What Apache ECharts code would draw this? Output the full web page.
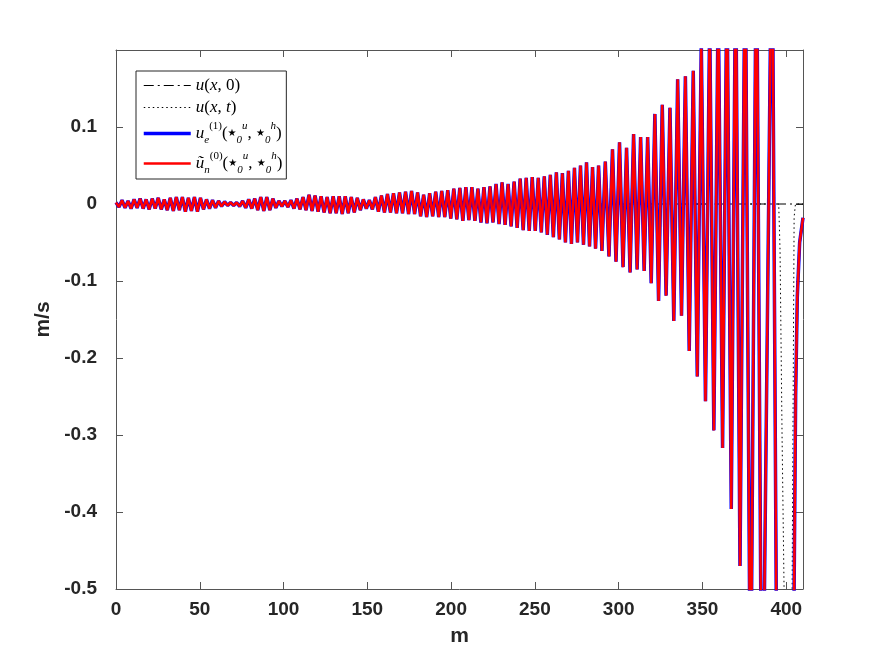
<!DOCTYPE html>
<html>
<head>
<meta charset="utf-8">
<title>m/s vs m</title>
<script src="https://cdn.jsdelivr.net/npm/echarts@6/dist/echarts.min.js"></script>
<style>
html,body{margin:0;padding:0;background:#fff;}
#main{width:888px;height:663px;}
</style>
</head>
<body>
<div id="main"></div>
<script>
// tick labels
var xTickLabels = ['0','50','100','150','200','250','300','350','400'];
var yTickLabels = ['-0.5','-0.4','-0.3','-0.2','-0.1','0','0.1'];

// legend keys, in drawing order
var seriesNames = ['u0', 'ut', 'ue', 'un'];

// u(x,0) and u(x,t)
var u0X = [0, 410];
var u0Y = [0, 0];
var utX = [0, 395.5, 396.3, 397.5, 398.7, 400.5, 402.3, 403.5, 404.7, 405.5, 410];
var utY = [0, 0, -0.06, -0.3, -0.5, -1.0, -0.8, -0.5, -0.017, 0, 0];

// numerical solution: turning points (m) and values (m/s)
var waveX = [
  0, 1.8, 3.6, 5.4, 7.2, 9, 10.8, 12.6, 14.4, 16.2,
  18, 19.8, 21.6, 23.4, 25.2, 27, 28.8, 30.6, 32.4, 34.2,
  36, 37.8, 39.6, 41.4, 43.2, 45, 46.8, 48.6, 50.4, 52.2,
  54, 55.8, 57.6, 59.4, 61.2, 63, 64.8, 66.6, 68.4, 70.2,
  72, 73.8, 75.6, 77.4, 79.2, 81, 82.8, 84.6, 86.4, 88.2,
  90, 91.8, 93.6, 95.4, 97.2, 99, 100.8, 102.6, 104.4, 106.2,
  108, 109.8, 111.6, 113.4, 115.2, 117, 118.8, 120.6, 122.4, 124.2,
  126, 127.8, 129.6, 131.4, 133.2, 135, 136.8, 138.6, 140.4, 142.2,
  144, 145.8, 147.6, 149.4, 151.2, 153, 154.8, 156.6, 158.4, 160.2,
  162, 163.8, 165.6, 167.4, 169.2, 171, 172.8, 174.6, 176.4, 178.2,
  180, 181.8, 183.6, 185.4, 187.2, 189, 190.8, 192.6, 194.4, 196.2,
  198, 199.8, 201.6, 203.4, 205.2, 207, 208.8, 210.6, 212.4, 214.2,
  216, 217.8, 219.6, 221.4, 223.2, 225, 226.8, 228.6, 230.4, 232.2,
  234, 235.8, 237.6, 239.4, 241.2, 243, 244.8, 246.6, 248.4, 250.2,
  252, 253.8, 255.6, 257.4, 259.2, 261, 262.8, 264.6, 266.4, 268.2,
  270, 271.8, 273.6, 275.4, 277.2, 279, 280.8, 282.6, 284.4, 286.2,
  288, 290,
  292, 294.2, 296.3, 298.4, 300.5, 302.6, 304.7, 306.8, 308.9, 311,
  313.1, 315.2, 317.3, 319.4, 321.6, 323.8, 326, 328.3, 330.6, 332.9,
  335.2, 337.5, 339.8, 342.1, 344.5, 346.9, 349.3, 351.8, 354.3, 356.8,
  359.4, 362, 364.6, 367.2, 369.8, 372.4, 375.5, 378.7, 382.2, 385.6,
  391.5, 394.3, 397, 400, 403, 404.7, 405.6, 406.6, 408, 410
];
var uTilde = [
  0.002, -0.004, 0.005, -0.005, 0.004, -0.006, 0.006, -0.005, 0.007, -0.006,
  0.006, -0.007, 0.007, -0.006, 0.008, -0.007, 0.006, -0.008, 0.008, -0.009,
  0.009, -0.008, 0.009, -0.010, 0.008, -0.009, 0.009, -0.010, 0.008, -0.007,
  0.006, -0.006, 0.005, -0.005, 0.004, -0.003, 0.003, -0.002, 0.002, -0.002,
  0.002, -0.003, 0.004, -0.005, 0.006, -0.006, 0.007, -0.008, 0.009, -0.009,
  0.009, -0.008, 0.007, -0.005, 0.004, -0.003, 0.004, -0.004, 0.005, -0.006,
  0.007, -0.007, 0.009, -0.008, 0.012, -0.009, 0.011, -0.010, 0.010, -0.011,
  0.009, -0.012, 0.010, -0.012, 0.010, -0.013, 0.010, -0.012, 0.009, -0.011,
  0.008, -0.008, 0.006, -0.006, 0.005, -0.007, 0.009, -0.010, 0.011, -0.011,
  0.013, -0.011, 0.014, -0.012, 0.015, -0.012, 0.016, -0.013, 0.017, -0.013,
  0.015, -0.016, 0.012, -0.017, 0.014, -0.016, 0.016, -0.017, 0.017, -0.017,
  0.018, -0.019, 0.020, -0.020, 0.021, -0.022, 0.022, -0.021, 0.022, -0.022,
  0.020, -0.024, 0.022, -0.025, 0.023, -0.024, 0.026, -0.026, 0.028, -0.027,
  0.026, -0.029, 0.029, -0.031, 0.033, -0.034, 0.034, -0.035, 0.035, -0.035,
  0.034, -0.037, 0.036, -0.040, 0.038, -0.043, 0.041, -0.046, 0.040, -0.050,
  0.043, -0.052, 0.047, -0.050, 0.050, -0.053, 0.054, -0.055, 0.048, -0.058,
  0.050, -0.061,
  0.055, -0.068, 0.071, -0.075, 0.080, -0.082, 0.073, -0.089, 0.091, -0.085,
  0.087, -0.087, 0.087, -0.103, 0.117, -0.126, 0.129, -0.119, 0.125, -0.152,
  0.162, -0.145, 0.166, -0.191, 0.173, -0.224, 0.21, -0.256, 0.24, -0.294,
  0.27, -0.317, 0.30, -0.396, 0.32, -0.470, 0.35, -0.70, 0.38, -0.78,
  0.40, -0.60, -0.95, -1.05, -0.90, -0.50, -0.25, -0.12, -0.05, -0.018
];

function pairs(xs, ys) {
  var out = [];
  for (var i = 0; i < xs.length; i++) out.push([xs[i], ys[i]]);
  return out;
}

var serif = "'Liberation Serif','DejaVu Serif',serif";
var sans = "'Liberation Sans',Arial,sans-serif";

var legendRich = {
  i: {fontFamily: serif, fontStyle: 'italic', fontSize: 17, lineHeight: 20, color: '#000'},
  r: {fontFamily: serif, fontSize: 17, lineHeight: 20, color: '#000'},
  i2: {fontFamily: serif, fontStyle: 'italic', fontSize: 17, lineHeight: 25, color: '#000'},
  r2: {fontFamily: serif, fontSize: 17, lineHeight: 25, color: '#000'},
  st: {fontFamily: "'DejaVu Sans',sans-serif", fontSize: 10, lineHeight: 25, color: '#000'},
  sub: {fontFamily: serif, fontStyle: 'italic', fontSize: 11, lineHeight: 11, verticalAlign: 'bottom', color: '#000'},
  sup: {fontFamily: serif, fontStyle: 'italic', fontSize: 11, lineHeight: 11, verticalAlign: 'top', color: '#000'},
  supr: {fontFamily: serif, fontSize: 11, lineHeight: 11, verticalAlign: 'top', color: '#000'}
};
var legendText = {
  u0: '{i|u}{r|(}{i|x}{r|, 0)}',
  ut: '{i|u}{r|(}{i|x}{r|, }{i|t}{r|)}',
  ue: '{i2|u}{sub|e}{supr|(1)}{r2|(}{st|\u2605}{sub|0}{sup|u}{r2|, }{st|\u2605}{sub|0}{sup|h}{r2|)}',
  un: '{i2|\u0169}{sub|n}{supr|(0)}{r2|(}{st|\u2605}{sub|0}{sup|u}{r2|, }{st|\u2605}{sub|0}{sup|h}{r2|)}'
};

var chart = echarts.init(document.getElementById('main'), null, {renderer: 'canvas'});

var axisColor = '#555';
var labelStyle = {fontFamily: sans, fontWeight: 'bold', fontSize: 19, color: '#262626'};

var option = {
  animation: false,
  backgroundColor: '#fff',
  grid: {left: 116, right: 85, top: 50, bottom: 74},
  legend: {
    orient: 'vertical',
    left: 136,
    top: 71,
    itemWidth: 47,
    itemHeight: 14,
    itemGap: 5,
    padding: [6, 4, 3, 6],
    backgroundColor: '#fff',
    borderColor: '#262626',
    borderWidth: 1,
    borderRadius: 0,
    data: seriesNames,
    itemStyle: {opacity: 0},
    lineStyle: {width: 'inherit'},
    formatter: function (name) { return legendText[name]; },
    textStyle: {rich: legendRich}
  },
  xAxis: [{
    type: 'value', min: 0, max: 410, interval: 50, position: 'bottom',
    name: 'm', nameLocation: 'middle', nameGap: 37,
    nameTextStyle: {fontFamily: sans, fontWeight: 'bold', fontSize: 21, color: '#262626'},
    axisLine: {onZero: false, lineStyle: {color: axisColor, width: 1}},
    axisTick: {inside: true, length: 7, lineStyle: {color: axisColor}},
    axisLabel: Object.assign({margin: 11, formatter: function (v) {
      var s = String(Math.round(v));
      return xTickLabels.indexOf(s) >= 0 ? s : '';
    }}, labelStyle),
    splitLine: {show: false}
  }, {
    type: 'value', min: 0, max: 410, interval: 50, position: 'top',
    axisLine: {onZero: false, lineStyle: {color: axisColor, width: 1}},
    axisTick: {inside: true, length: 7, lineStyle: {color: axisColor}},
    axisLabel: {show: false},
    splitLine: {show: false}
  }],
  yAxis: [{
    type: 'value', min: -0.5, max: 0.2, interval: 0.1, position: 'left',
    name: 'm/s', nameLocation: 'middle', nameGap: 44,
    nameTextStyle: {fontFamily: sans, fontWeight: 'bold', fontSize: 21, color: '#262626'},
    axisLine: {onZero: false, lineStyle: {color: axisColor, width: 1}},
    axisTick: {inside: true, length: 7, lineStyle: {color: axisColor}},
    axisLabel: Object.assign({margin: 19, formatter: function (v) {
      var s = String(+v.toFixed(1));
      return yTickLabels.indexOf(s) >= 0 ? s : '';
    }}, labelStyle),
    splitLine: {show: false}
  }, {
    type: 'value', min: -0.5, max: 0.2, interval: 0.1, position: 'right',
    axisLine: {onZero: false, lineStyle: {color: axisColor, width: 1}},
    axisTick: {inside: true, length: 7, lineStyle: {color: axisColor}},
    axisLabel: {show: false},
    splitLine: {show: false}
  }],
  series: [{
    name: 'u0', type: 'line', symbol: 'none', data: pairs(u0X, u0Y),
    itemStyle: {color: '#000'},
    lineStyle: {color: '#000', width: 1, type: [10, 4, 2, 4]}, z: 2
  }, {
    name: 'ut', type: 'line', symbol: 'none', data: pairs(utX, utY),
    itemStyle: {color: '#000'},
    lineStyle: {color: '#000', width: 1, type: [1.5, 3]}, z: 3
  }, {
    name: 'ue', type: 'line', symbol: 'none', data: pairs(waveX, uTilde),
    itemStyle: {color: '#0000ff'},
    lineStyle: {color: '#0000ff', width: 3.5}, z: 4
  }, {
    name: 'un', type: 'line', symbol: 'none', data: pairs(waveX, uTilde),
    itemStyle: {color: '#ff0000'},
    lineStyle: {color: '#ff0000', width: 2.5}, z: 5
  }]
};

chart.setOption(option);
</script>
</body>
</html>
